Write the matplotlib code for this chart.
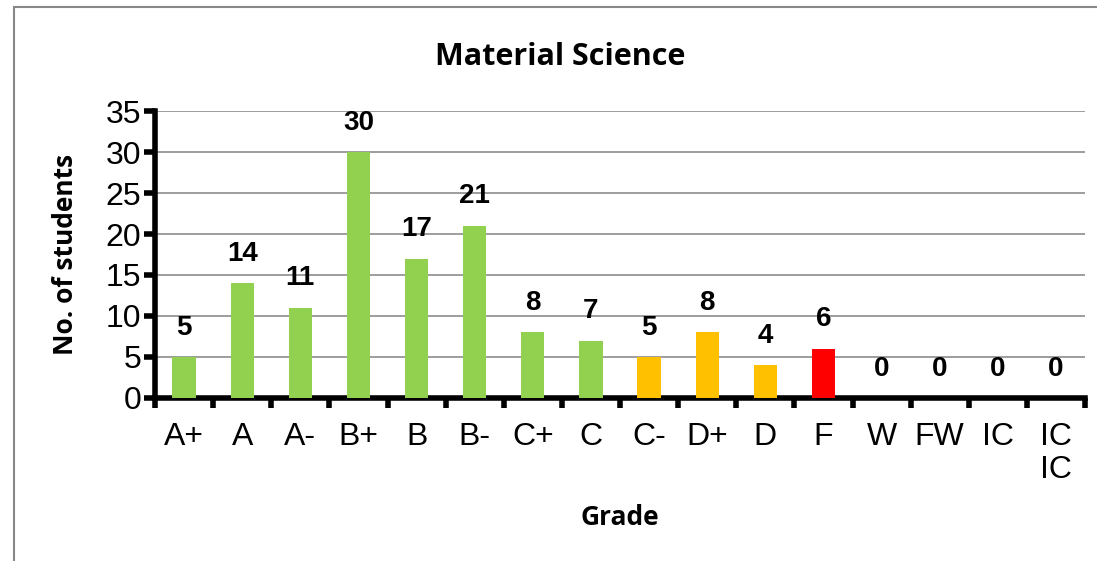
"""Grade distribution bar chart for Material Science"""

import matplotlib.pyplot as plt
from matplotlib.patches import Rectangle

grades = ["A+", "A", "A-", "B+", "B", "B-", "C+", "C", "C-", "D+", "D", "F",
          "W", "FW", "IC", "IC\nIC"]
students = [5, 14, 11, 30, 17, 21, 8, 7, 5, 8, 4, 6, 0, 0, 0, 0]
bar_colors = ["#92D050"] * 8 + ["#FFC000"] * 3 + ["#FF0000"] + ["#92D050"] * 4

fig = plt.figure(figsize=(10.97, 5.61), dpi=100)
ax = fig.add_axes([0.1413, 0.2906, 0.8478, 0.5115])

x = range(len(grades))
ax.bar(x, students, width=0.4, color=bar_colors, zorder=3)

for i, v in enumerate(students):
    ax.text(i, v + 2.0, str(v), ha="center", va="bottom", fontsize=20,
            fontweight="bold", family="Liberation Sans")

ax.set_xlim(-0.5, len(grades) - 0.5)
ax.set_ylim(0, 35)
ax.set_yticks(range(0, 36, 5))
ax.set_xticks(list(x))
ax.set_xticklabels(grades, family="Liberation Sans", fontsize=23, va="top",
                   linespacing=1.15)
ax.set_xticks([i - 0.5 for i in range(len(grades) + 1)], minor=True)
ax.tick_params(axis="x", which="major", length=0, pad=17)
ax.tick_params(axis="x", which="minor", length=7, width=4, direction="out")
ax.tick_params(axis="y", length=8, width=4, direction="out", pad=2,
               labelsize=23)
for lbl in ax.get_yticklabels():
    lbl.set_family("Liberation Sans")

ax.grid(axis="y", color="#8c8c8c", linewidth=1.2, zorder=0)
for side in ["top", "right"]:
    ax.spines[side].set_visible(False)
ax.spines["left"].set_linewidth(4)
ax.spines["bottom"].set_linewidth(4)

ax.set_xlabel("Grade", fontsize=19, fontweight="bold", family="Open Sans",
              va="center")
ax.set_ylabel("No. of students", fontsize=19, fontweight="bold",
              family="Open Sans", va="center")
ax.xaxis.set_label_coords(0.5, -0.415)
ax.yaxis.set_label_coords(-0.096, 0.5)
fig.text(0.511, 0.898, "Material Science", ha="center", va="center",
         fontsize=22, fontweight="bold", family="Open Sans")

# outer chart frame
fig.patches.append(Rectangle((14 / 1097, -0.1), 1.2, 1.1 - 7 / 561,
                             transform=fig.transFigure, fill=False,
                             edgecolor="#888888", linewidth=1.5))

fig.savefig("out.png", dpi=100)
